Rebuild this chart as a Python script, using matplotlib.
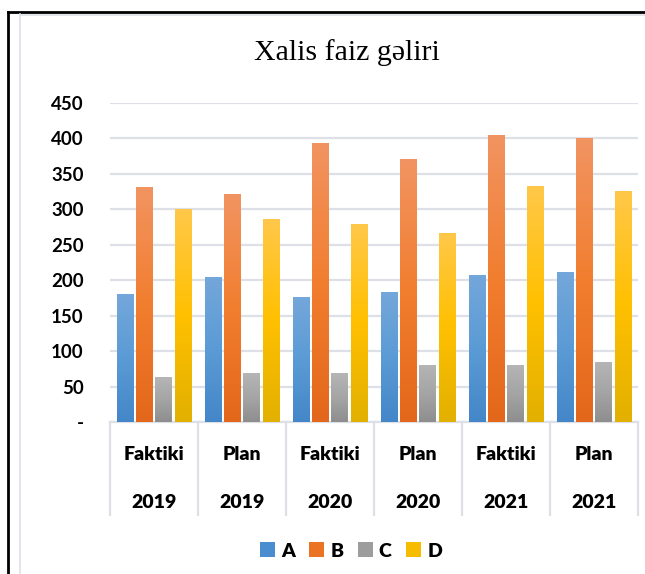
import numpy as np
import matplotlib
matplotlib.use("Agg")
import matplotlib.pyplot as plt
from matplotlib.colors import LinearSegmentedColormap
from matplotlib.patches import Patch
from matplotlib.lines import Line2D

cat_type = ["Faktiki", "Plan", "Faktiki", "Plan", "Faktiki", "Plan"]
cat_year = ["2019", "2019", "2020", "2020", "2021", "2021"]
series_names = ["A", "B", "C", "D"]
A = [180, 205, 176, 183, 208, 211]
B = [332, 322, 394, 371, 405, 401]
C = [63, 69, 69, 81, 81, 85]
D = [300, 286, 280, 267, 333, 326]
values = [A, B, C, D]
yticks = [0, 50, 100, 150, 200, 250, 300, 350, 400, 450]
ytick_labels = ["-", "50", "100", "150", "200", "250", "300", "350", "400", "450"]

grads = [
    ("#4486C8", "#5B9BD5", "#74A7DB"),
    ("#E3671A", "#F27E2F", "#F19462"),
    ("#8E8E8E", "#A5A5A5", "#B5B5B5"),
    ("#E2B000", "#FFC000", "#FFC84A"),
]
legend_colors = ["#4A8ED0", "#EB7424", "#9D9D9D", "#F5BC00"]

fig = plt.figure(figsize=(6.45, 5.74), dpi=100)
W, H = 645, 574
ax_bottom_px, ax_top_px = 422, 103
ax_h_px = ax_bottom_px - ax_top_px
ax = fig.add_axes([110 / W, (H - ax_bottom_px) / H, (638 - 110) / W, ax_h_px / H])

n = len(cat_type)
x = np.arange(n)
bw = 0.185
step = 0.218
offsets = (np.arange(4) - 1.5) * step

for i, (vals, g) in enumerate(zip(values, grads)):
    cmap = LinearSegmentedColormap.from_list("g%d" % i, list(g))
    bars = ax.bar(x + offsets[i], vals, width=bw, color=g[1], zorder=2, linewidth=0)
    grad = np.linspace(0, 1, 256).reshape(-1, 1)
    for b in bars:
        bx, by = b.get_x(), b.get_y()
        bh, bwid = b.get_height(), b.get_width()
        im = ax.imshow(grad, cmap=cmap, origin="lower", aspect="auto",
                       extent=(bx, bx + bwid, by, by + bh), zorder=3)
        im.set_clip_path(b)

ax.set_xlim(-0.5, n - 0.5)
ax.set_ylim(0, 450)

ax.set_yticks(yticks)
ax.set_yticklabels(ytick_labels, fontsize=13.5, fontweight="bold", family="Lato")
ax.tick_params(axis="y", length=0, pad=19)
ax.yaxis.grid(True, color="#DDE1E7", linewidth=1.6, zorder=0)
ax.set_axisbelow(True)
for s in ["top", "right", "left"]:
    ax.spines[s].set_visible(False)
ax.spines["bottom"].set_color("#DDE1E7")
ax.spines["bottom"].set_linewidth(1.6)

ax.set_xticks(x)
ax.set_xticklabels([])
ax.tick_params(axis="x", length=0)
tr = ax.get_xaxis_transform()
for k in range(n):
    ax.text(x[k], (ax_bottom_px - 454) / ax_h_px, cat_type[k], transform=tr, ha="center", va="center",
            fontsize=14, fontweight="heavy", family="Lato")
    ax.text(x[k], (ax_bottom_px - 502) / ax_h_px, cat_year[k], transform=tr, ha="center", va="center",
            fontsize=14, fontweight="heavy", family="Lato")

# category separators below the axis
sep_len = (515 - ax_bottom_px) / ax_h_px * 450
for k in range(n + 1):
    ax.add_line(Line2D([k - 0.5, k - 0.5], [0, -sep_len], color="#DDE1E7",
                       linewidth=1.6, clip_on=False, zorder=1))

fig.text(347 / W, 1 - 53 / H, "Xalis faiz gəliri", ha="center", va="center",
         fontsize=21.5, family="Liberation Serif")

handles = [Patch(facecolor=c, edgecolor="none") for c in legend_colors]
leg = fig.legend(handles, series_names, loc="center", bbox_to_anchor=(351 / W, 1 - 551 / H),
                 ncol=4, frameon=False, handlelength=0.78, handleheight=0.78,
                 handletextpad=0.3, columnspacing=0.75,
                 prop={"family": "Lato", "weight": "heavy", "size": 14})

# chart borders
fig.add_artist(Line2D([8 / W, 8 / W], [0, 1 - 12 / H], color="black", linewidth=2, transform=fig.transFigure))
fig.add_artist(Line2D([8 / W, 1], [1 - 12 / H, 1 - 12 / H], color="black", linewidth=2, transform=fig.transFigure))
fig.add_artist(Line2D([20 / W, 20 / W], [0, 1 - 14 / H], color="#DDE1E7", linewidth=1.2, transform=fig.transFigure))
fig.add_artist(Line2D([20 / W, 1], [1 - 14.5 / H, 1 - 14.5 / H], color="#DDE1E7", linewidth=1.2, transform=fig.transFigure))

fig.savefig("out.png", dpi=100)
